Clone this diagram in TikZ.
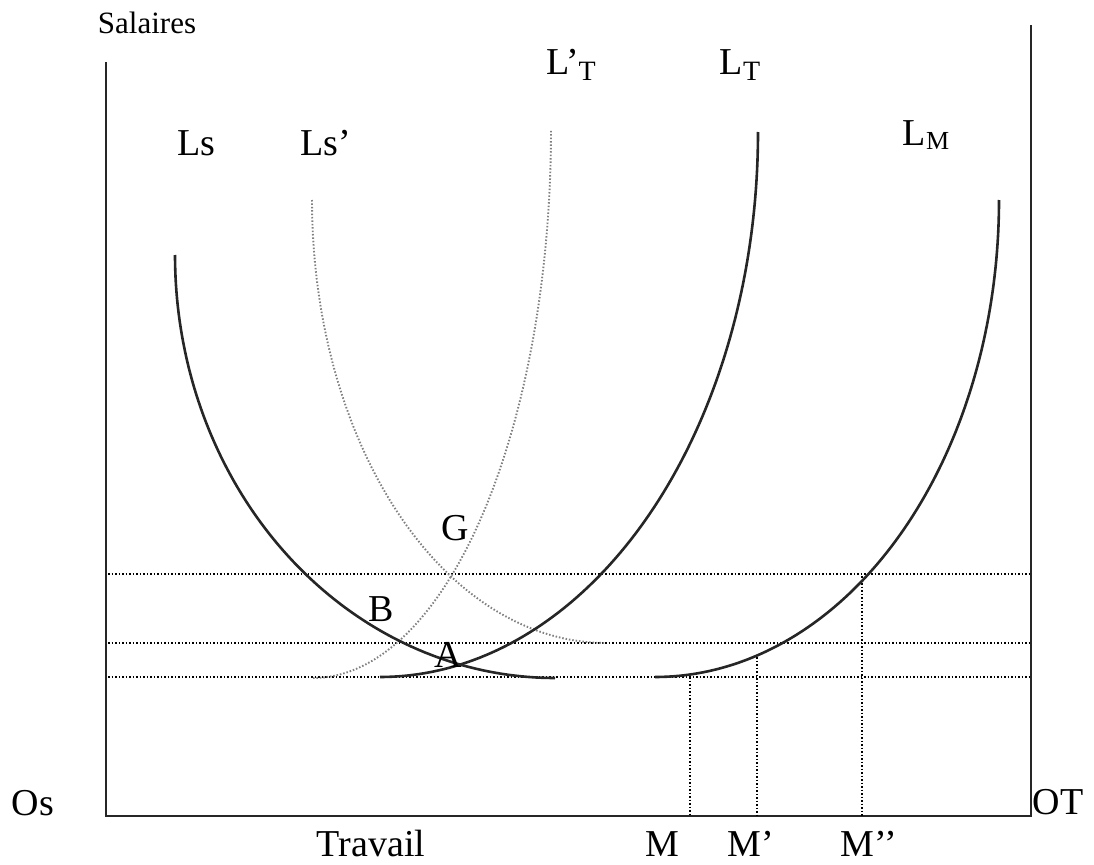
\documentclass[tikz,border=0pt]{standalone}
\usepackage{fontspec}
\setmainfont{Liberation Serif}
\begin{document}
\begin{tikzpicture}[x=1pt,y=-1pt,
  axis/.style={line width=2.6pt, black!85},
  solidcurve/.style={line width=2.6pt, black!85},
  graycurve/.style={line width=1.9pt, black!50, dash pattern=on 1.5pt off 1.9pt},
  guide/.style={line width=1.7pt, black, dash pattern=on 1.6pt off 1.9pt},
  lbl/.style={font=\fontsize{38}{40}\selectfont, inner sep=0pt, anchor=base},
  sublbl/.style={font=\fontsize{31}{33}\selectfont, inner sep=0pt, anchor=base}]
\useasboundingbox (0,0) rectangle (1094,864);
% axes
\coordinate (ytop) at (106,62);
\coordinate (O) at (106,816);
\coordinate (xend) at (1031,816);
\coordinate (rtop) at (1031,25);
\draw[axis] (ytop) -- (O) -- (xend) -- (rtop);
% horizontal guides
\coordinate (h1a) at (108,574); \coordinate (h1b) at (1031,574);
\coordinate (h2a) at (108,643); \coordinate (h2b) at (1031,643);
\coordinate (h3a) at (108,677); \coordinate (h3b) at (1031,677);
\draw[guide] (h1a) -- (h1b);
\draw[guide] (h2a) -- (h2b);
\draw[guide] (h3a) -- (h3b);
% vertical guides
\coordinate (m1) at (690,677); \coordinate (m1b) at (690,816);
\coordinate (m2) at (757,657); \coordinate (m2b) at (757,816);
\coordinate (m3) at (862,576); \coordinate (m3b) at (862,816);
\draw[guide] (m1) -- (m1b);
\draw[guide] (m2) -- (m2b);
\draw[guide] (m3) -- (m3b);
% gray dotted curves (quarter ellipses)
% Ls'
\draw[graycurve] plot[domain=0:90, samples=90, variable=\t] ({606-294*cos(\t)}, {200+443*sin(\t)});
% L'T
\draw[graycurve] plot[domain=0:90, samples=90, variable=\t] ({313+238*sin(\t)}, {130+548*cos(\t)});
% solid curves
% Ls
\draw[solidcurve] plot[domain=0:90, samples=90, variable=\t] ({555-380*cos(\t)}, {255+423*sin(\t)});
% LT
\draw[solidcurve] plot[domain=0:90, samples=90, variable=\t] ({380+378*sin(\t)}, {132+545*cos(\t)});
% LM
\draw[solidcurve] plot[domain=0:90, samples=90, variable=\t] ({655+344*sin(\t)}, {200+477*cos(\t)});
% labels
\node[sublbl] (sal) at (147,34) {Salaires};
\node[lbl] (ls) at (196,155) {Ls};
\node[lbl] (lsp) at (326,155) {Ls’};
\node[lbl] (ltp) at (571,75) {L’\raisebox{-6pt}{\fontsize{28}{30}\selectfont T}};
\node[lbl] (lt) at (740,75) {L\raisebox{-6pt}{\fontsize{28}{30}\selectfont T}};
\node[lbl] (lm) at (926,145) {L\raisebox{-4pt}{\fontsize{26}{28}\selectfont M}};
\node[lbl] (g) at (455,540) {G};
\node[lbl] (b) at (381,621) {B};
\node[lbl] (a) at (448,667) {A};
\node[lbl] (os) at (33,815) {Os};
\node[lbl] (ot) at (1058,814) {OT};
\node[lbl] (trav) at (371,856) {Travail};
\node[lbl] (mm) at (662,856) {M};
\node[lbl] (mp) at (751,856) {M’};
\node[lbl] (mpp) at (869,856) {M’’};
\end{tikzpicture}
\end{document}
